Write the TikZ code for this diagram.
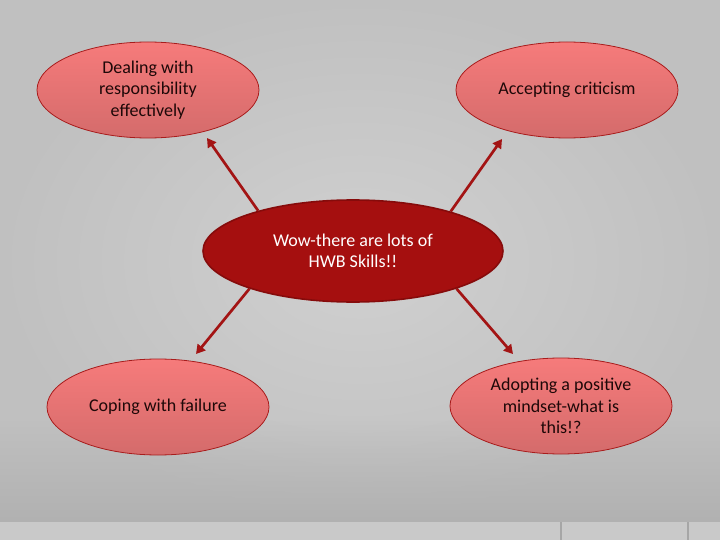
\documentclass[tikz,border=0pt]{standalone}
\usepackage{fontspec}
\setmainfont{Carlito}
\usetikzlibrary{shapes.geometric,arrows.meta,fadings}
\definecolor{bgin}{HTML}{D0D0D0}
\definecolor{bgout}{HTML}{C0C0C0}
\definecolor{bgdark}{HTML}{B1B1B1}
\definecolor{bgstrip}{HTML}{C9C9C9}
\definecolor{stripline}{HTML}{A6A6A6}
\definecolor{ltop}{HTML}{F67B7B}
\definecolor{lbot}{HTML}{D46B6B}
\definecolor{lborder}{HTML}{A81C1C}
\definecolor{cfill}{HTML}{A50F0F}
\definecolor{cborder}{HTML}{860B0B}
\definecolor{arrowcol}{HTML}{A31414}
\definecolor{txtdark}{HTML}{1E0808}
\tikzfading[name=fadeup, top color=transparent!100, bottom color=transparent!0]
\pgfdeclarelayer{bglayer}
\pgfdeclarelayer{arrowlayer}
\pgfsetlayers{bglayer,arrowlayer,main}
\tikzset{
  outerell/.style={ellipse, draw=lborder, line width=0.8pt, top color=ltop, bottom color=lbot,
    minimum width=222pt, minimum height=96pt, inner sep=0pt, align=center,
    font=\fontsize{18}{21.5}\selectfont, text=txtdark},
  centerell/.style={ellipse, draw=cborder, line width=1.6pt, fill=cfill,
    minimum width=300pt, minimum height=102pt, inner sep=0pt, align=center,
    font=\fontsize{18}{21.5}\selectfont, text=white},
  conn/.style={draw=arrowcol, line width=2.7pt, -{Triangle[length=9pt,width=10pt]}}
}
\begin{document}
\begin{tikzpicture}[x=1pt,y=-1pt]
\useasboundingbox (0,0) rectangle (720,540);
\begin{pgfonlayer}{bglayer}
  \shade[inner color=bgin, outer color=bgout] (0,0) rectangle (720,522);
  \fill[bgdark, path fading=fadeup] (0,420) rectangle (720,522.5);
  \fill[bgstrip] (0,522) rectangle (720,540);
  \draw[stripline, line width=1.2pt] (561,522) -- (561,540);
  \draw[stripline, line width=1.2pt] (688,522) -- (688,540);
\end{pgfonlayer}

\node[outerell] (tl) at (148,90) {Dealing with\\responsibility\\effectively};
\node[outerell] (tr) at (567,90) {Accepting criticism};
\node[outerell] (bl) at (158,407) {Coping with failure};
\node[outerell] (br) at (561,406) {Adopting a positive\\mindset-what is\\this!?};
\node[centerell] (c) at (353,251) {Wow-there are lots of\\HWB Skills!!};

\coordinate (t1) at (207,138);
\coordinate (t2) at (502,139);
\coordinate (t3) at (196,354);
\coordinate (t4) at (513,354);

\begin{pgfonlayer}{arrowlayer}
  \draw[conn] (c.157) -- (t1);
  \draw[conn] (c.22) -- (t2);
  \draw[conn] (c.200) -- (t3);
  \draw[conn] (c.340) -- (t4);
\end{pgfonlayer}
\end{tikzpicture}
\end{document}
